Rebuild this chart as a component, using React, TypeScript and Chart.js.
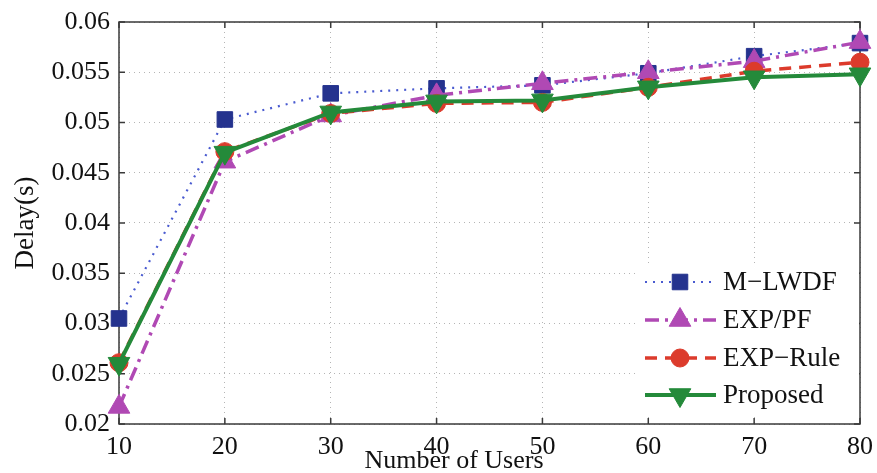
import React, { useEffect, useRef } from "react";
import { Chart, registerables } from "chart.js";

Chart.register(...registerables);

const users = [10, 20, 30, 40, 50, 60, 70, 80];
const mlwdf = [0.0305, 0.0503, 0.0529, 0.0534, 0.0537, 0.0549, 0.0566, 0.0579];
const expPf = [0.0217, 0.0461, 0.0507, 0.0527, 0.0539, 0.0550, 0.0561, 0.0580];
const expRule = [0.0261, 0.0471, 0.0509, 0.0519, 0.0520, 0.0535, 0.0551, 0.0560];
const proposed = [0.0260, 0.0470, 0.0510, 0.0521, 0.0522, 0.0535, 0.0545, 0.0548];

const seriesNames = ["M\u2212LWDF", "EXP/PF", "EXP\u2212Rule", "Proposed"];
const xTicks = [10, 20, 30, 40, 50, 60, 70, 80];
const yTicks = [0.02, 0.025, 0.03, 0.035, 0.04, 0.045, 0.05, 0.055, 0.06];
const yTickLabels = ["0.02", "0.025", "0.03", "0.035", "0.04", "0.045", "0.05", "0.055", "0.06"];
const xTitle = "Number of Users";
const yTitle = "Delay(s)";

const FONT = "'Liberation Serif', 'DejaVu Serif', serif";

type Style = {
  line: string;
  fill: string;
  width: number;
  dash: number[];
  marker: string;
  radius: number;
};

const styles: Style[] = [
  { line: "#4a5bd0", fill: "#25338e", width: 2.2, dash: [2, 6], marker: "square", radius: 11 },
  { line: "#b049b4", fill: "#b049b4", width: 3.5, dash: [14, 6, 3, 6], marker: "triangle", radius: 12.5 },
  { line: "#dc3b2c", fill: "#dc3b2c", width: 3.5, dash: [12, 8], marker: "circle", radius: 9 },
  { line: "#248a3a", fill: "#248a3a", width: 4, dash: [], marker: "invtriangle", radius: 12.5 },
];

function drawMarker(ctx: CanvasRenderingContext2D, kind: string, x: number, y: number, r: number, color: string) {
  ctx.save();
  ctx.setLineDash([]);
  ctx.fillStyle = color;
  ctx.strokeStyle = color;
  ctx.lineWidth = 1;
  ctx.beginPath();
  if (kind === "square") {
    const s = Math.SQRT1_2 * r;
    ctx.rect(x - s, y - s, 2 * s, 2 * s);
  } else if (kind === "circle") {
    ctx.arc(x, y, r, 0, Math.PI * 2);
  } else if (kind === "triangle") {
    ctx.moveTo(x, y - r);
    ctx.lineTo(x + r * 0.866, y + r / 2);
    ctx.lineTo(x - r * 0.866, y + r / 2);
    ctx.closePath();
  } else {
    ctx.moveTo(x, y + r);
    ctx.lineTo(x + r * 0.866, y - r / 2);
    ctx.lineTo(x - r * 0.866, y - r / 2);
    ctx.closePath();
  }
  ctx.fill();
  ctx.stroke();
  ctx.restore();
}

const framePlugin = {
  id: "frame",
  beforeDatasetsDraw(chart: any) {
    const { ctx, chartArea } = chart;
    const { left, right, top, bottom } = chartArea;
    const xs = chart.scales.x;
    const ys = chart.scales.y;
    ctx.save();
    ctx.setLineDash([]);
    ctx.strokeStyle = "#3a3a3a";
    ctx.lineWidth = 1.5;
    ctx.strokeRect(left, top, right - left, bottom - top);
    const tl = 6;
    ctx.beginPath();
    xTicks.forEach((v) => {
      const px = xs.getPixelForValue(v);
      ctx.moveTo(px, bottom);
      ctx.lineTo(px, bottom - tl);
      ctx.moveTo(px, top);
      ctx.lineTo(px, top + tl);
    });
    yTicks.forEach((v) => {
      const py = ys.getPixelForValue(v);
      ctx.moveTo(left, py);
      ctx.lineTo(left + tl, py);
      ctx.moveTo(right, py);
      ctx.lineTo(right - tl, py);
    });
    ctx.stroke();
    ctx.restore();
  },
  afterDatasetsDraw(chart: any) {
    const { ctx, chartArea } = chart;
    ctx.save();
    ctx.fillStyle = "#ffffff";
    ctx.fillRect(636, 263, chartArea.right - 636 - 1, 150);
    const rows = [282, 320, 358, 395];
    seriesNames.forEach((name, i) => {
      const st = styles[i];
      const y = rows[i];
      ctx.save();
      ctx.strokeStyle = st.line;
      ctx.lineWidth = st.width;
      ctx.setLineDash(st.dash);
      ctx.beginPath();
      ctx.moveTo(645, y);
      ctx.lineTo(716, y);
      ctx.stroke();
      ctx.restore();
      drawMarker(ctx, st.marker, 680, y, st.radius, st.fill);
      ctx.fillStyle = "#111";
      ctx.font = `27px ${FONT}`;
      ctx.textAlign = "left";
      ctx.textBaseline = "middle";
      ctx.fillText(name, 723, y + 1);
    });
    ctx.restore();
  },
  afterDraw(chart: any) {
    const { ctx, chartArea } = chart;
    ctx.save();
    ctx.fillStyle = "#111";
    ctx.textAlign = "center";
    ctx.textBaseline = "middle";
    ctx.font = `26px ${FONT}`;
    ctx.fillText(xTitle, 454, 461);
    ctx.font = `27px ${FONT}`;
    ctx.translate(26, (chartArea.top + chartArea.bottom) / 2);
    ctx.rotate(-Math.PI / 2);
    ctx.fillText(yTitle, 0, 0);
    ctx.restore();
  },
};

export default function App() {
  const canvasRef = useRef<HTMLCanvasElement | null>(null);

  useEffect(() => {
    const canvas = canvasRef.current;
    if (!canvas) return;
    const allSeries = [mlwdf, expPf, expRule, proposed];
    const datasets = allSeries.map((vals, i) => {
      const st = styles[i];
      const pointStyle = st.marker === "square" ? "rect" : st.marker === "invtriangle" ? "triangle" : st.marker;
      return {
        label: seriesNames[i],
        data: users.map((u, k) => ({ x: u, y: vals[k] })),
        borderColor: st.line,
        backgroundColor: st.fill,
        borderWidth: st.width,
        borderDash: st.dash,
        pointStyle,
        pointRotation: st.marker === "invtriangle" ? 180 : 0,
        pointRadius: st.radius,
        pointBackgroundColor: st.fill,
        pointBorderColor: st.fill,
        pointBorderWidth: 1,
        tension: 0,
        fill: false,
        clip: false as any,
        order: 4 - i,
      };
    });

    const chart = new Chart(canvas, {
      type: "line",
      data: { datasets: datasets as any },
      options: {
        animation: false,
        responsive: false,
        maintainAspectRatio: false,
        layout: { padding: { left: 0, right: 17, top: 22, bottom: 0 } },
        plugins: { legend: { display: false }, tooltip: { enabled: false } },
        scales: {
          x: {
            type: "linear",
            min: 10,
            max: 80,
            afterBuildTicks: (axis: any) => {
              axis.ticks = xTicks.map((v) => ({ value: v }));
            },
            afterFit: (axis: any) => {
              axis.height = 49;
              axis.paddingLeft = 0;
              axis.paddingRight = 0;
            },
            ticks: {
              color: "#111",
              font: { family: FONT, size: 26 },
              padding: 8,
              maxRotation: 0,
              autoSkip: false,
              callback: (v: any) => String(v),
            },
            grid: { color: "#b5b5b5", lineWidth: 1, drawTicks: false },
            border: { display: false, dash: [1, 4] },
          },
          y: {
            type: "linear",
            min: 0.02,
            max: 0.06,
            afterBuildTicks: (axis: any) => {
              axis.ticks = yTicks.map((v) => ({ value: v }));
            },
            afterFit: (axis: any) => {
              axis.width = 119;
              axis.paddingTop = 0;
              axis.paddingBottom = 0;
            },
            ticks: {
              color: "#111",
              font: { family: FONT, size: 26 },
              padding: 9,
              autoSkip: false,
              callback: (v: any) => {
                const idx = yTicks.findIndex((t) => Math.abs(t - Number(v)) < 1e-9);
                return idx >= 0 ? yTickLabels[idx] : "";
              },
            },
            grid: { color: "#b5b5b5", lineWidth: 1, drawTicks: false },
            border: { display: false, dash: [1, 4] },
          },
        },
      },
      plugins: [framePlugin as any],
    });
    return () => chart.destroy();
  }, []);

  return (
    <div style={{ position: "absolute", left: 0, top: 0, width: 877, height: 473, background: "#fff" }}>
      <canvas ref={canvasRef} width={877} height={473} style={{ display: "block", width: 877, height: 473 }} />
    </div>
  );
}
